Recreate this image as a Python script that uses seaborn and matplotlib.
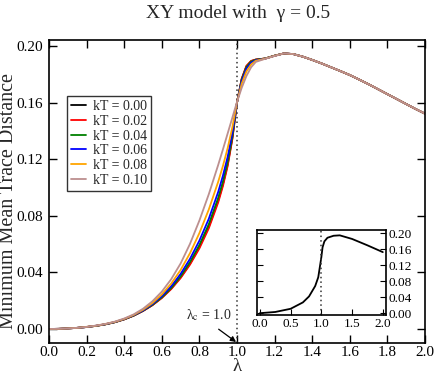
import numpy as np
import pandas as pd
import matplotlib
matplotlib.use("Agg")
import matplotlib.pyplot as plt
import seaborn as sns

# ---------------- data ----------------
lam_head = [0.0, 0.05, 0.10, 0.15, 0.20, 0.25, 0.30, 0.35, 0.40, 0.45, 0.50, 0.55,
            0.60, 0.65, 0.70, 0.75, 0.80, 0.85, 0.90, 0.925, 0.95, 0.975, 1.00,
            1.025, 1.05, 1.075, 1.10, 1.15, 1.20]
lam_tail = [1.25, 1.30, 1.35, 1.40, 1.45, 1.50, 1.55, 1.60, 1.65, 1.70, 1.75,
            1.80, 1.85, 1.90, 1.95, 2.00]
tail = [0.1948, 0.1943, 0.1925, 0.1902, 0.1877, 0.1850, 0.1823, 0.1795, 0.1763,
        0.1730, 0.1695, 0.1660, 0.1625, 0.1590, 0.1555, 0.1522]

kT_000 = [0.0, 0.0001, 0.0004, 0.0008, 0.0014, 0.0022, 0.0033, 0.0048, 0.0068, 0.0094,
          0.0128, 0.0169, 0.0221, 0.0286, 0.0365, 0.0462, 0.0580, 0.0724, 0.0908,
          0.1023, 0.1162, 0.1348, 0.1600, 0.1767, 0.1856, 0.1893, 0.1904, 0.1912, 0.1932]
kT_002 = [0.0, 0.0001, 0.0004, 0.0008, 0.0014, 0.0022, 0.0033, 0.0048, 0.0068, 0.0094,
          0.0127, 0.0168, 0.0219, 0.0282, 0.0360, 0.0455, 0.0570, 0.0712, 0.0895,
          0.1010, 0.1150, 0.1340, 0.1600, 0.1770, 0.1860, 0.1895, 0.1905, 0.1912, 0.1932]
kT_004 = [0.0, 0.0001, 0.0004, 0.0008, 0.0014, 0.0022, 0.0033, 0.0048, 0.0069, 0.0095,
          0.0129, 0.0171, 0.0224, 0.0290, 0.0372, 0.0473, 0.0594, 0.0741, 0.0927,
          0.1041, 0.1178, 0.1358, 0.1601, 0.1762, 0.1851, 0.1890, 0.1903, 0.1912, 0.1932]
kT_006 = [0.0, 0.0001, 0.0004, 0.0008, 0.0014, 0.0023, 0.0034, 0.0049, 0.0070, 0.0097,
          0.0131, 0.0176, 0.0232, 0.0302, 0.0389, 0.0496, 0.0625, 0.0779, 0.0969,
          0.1083, 0.1215, 0.1383, 0.1601, 0.1752, 0.1840, 0.1882, 0.1900, 0.1911, 0.1931]
kT_008 = [0.0, 0.0001, 0.0004, 0.0008, 0.0015, 0.0023, 0.0035, 0.0050, 0.0071, 0.0099,
          0.0136, 0.0183, 0.0244, 0.0321, 0.0417, 0.0536, 0.0678, 0.0845, 0.1041,
          0.1152, 0.1277, 0.1424, 0.1603, 0.1734, 0.1820, 0.1870, 0.1896, 0.1911, 0.1931]
kT_010 = [0.0, 0.0001, 0.0004, 0.0008, 0.0015, 0.0024, 0.0036, 0.0052, 0.0074, 0.0103,
          0.0143, 0.0196, 0.0264, 0.0352, 0.0463, 0.0602, 0.0767, 0.0953, 0.1160,
          0.1269, 0.1381, 0.1493, 0.1605, 0.1705, 0.1788, 0.1850, 0.1888, 0.1910, 0.1930]

kT_labels = ["kT = 0.00", "kT = 0.02", "kT = 0.04", "kT = 0.06", "kT = 0.08", "kT = 0.10"]
series = [kT_000, kT_002, kT_004, kT_006, kT_008, kT_010]
colors = ["#000000", "#ff0000", "#008000", "#0000ff", "#ffa500", "#bc8f8f"]

inset_lam = [0.0, 0.25, 0.5, 0.7, 0.8, 0.9, 0.95, 1.0, 1.02, 1.05, 1.1, 1.2, 1.3,
             1.5, 1.75, 2.0]
inset_val = [0.0, 0.003, 0.011, 0.027, 0.042, 0.068, 0.090, 0.140, 0.165, 0.180,
             0.189, 0.194, 0.195, 0.186, 0.170, 0.153]

x_ticks = [0.0, 0.2, 0.4, 0.6, 0.8, 1.0, 1.2, 1.4, 1.6, 1.8, 2.0]
y_ticks = [0.00, 0.04, 0.08, 0.12, 0.16, 0.20]
inset_x_ticks = [0.0, 0.5, 1.0, 1.5, 2.0]

# ---------------- styling ----------------
sns.set_style("ticks")
plt.rcParams["font.family"] = ["Liberation Serif", "DejaVu Serif"]
plt.rcParams["mathtext.fontset"] = "stix"

lam_full = lam_head + lam_tail
rows = []
for lab, vals in zip(kT_labels, series):
    for l, v in zip(lam_full, vals + tail):
        rows.append({"lam": l, "D": v, "kT": lab})
df = pd.DataFrame(rows)

fig = plt.figure(figsize=(4.36, 3.77), dpi=100)
ax = fig.add_axes([0.1124, 0.0902, 0.8624, 0.8038])

sns.lineplot(data=df, x="lam", y="D", hue="kT", hue_order=kT_labels,
             palette=colors, linewidth=1.3, ax=ax, legend=True)

ax.set_xlim(0.0, 2.0)
ax.set_ylim(-0.0099, 0.2043)
ax.set_xticks(x_ticks)
ax.set_xticklabels([f"{t:.1f}" for t in x_ticks])
ax.set_yticks(y_ticks)
ax.set_yticklabels([f"{t:.2f}" for t in y_ticks])
ax.tick_params(direction="in", top=True, right=True, length=6, width=1,
               labelsize=11, pad=4, colors="black")
ax.tick_params(axis="x", pad=2.5)
for s in ax.spines.values():
    s.set_linewidth(1.2)
    s.set_color("black")

ax.axvline(1.0, color="#333333", linestyle=(0, (1, 2)), linewidth=1.1, zorder=1)

ax.set_xlabel("λ", fontsize=13.5, va="bottom")
ax.xaxis.set_label_coords(0.5, -0.107)
ax.set_ylabel("Minimum Mean Trace Distance", fontsize=14.5)
ax.yaxis.set_label_coords(-0.083, 0.47)
fig.text(0.545, 0.963, "XY model with  γ = 0.5", ha="center", va="center", fontsize=14)

ax.annotate("λ$_\\mathrm{c}$ = 1.0", xy=(0.995, -0.0092), xytext=(0.728, 0.0095),
            fontsize=10, ha="left", va="center",
            arrowprops=dict(arrowstyle="-|>", color="black", lw=0.9, relpos=(0.55, 0.0),
                            shrinkA=3, shrinkB=0, mutation_scale=8))

leg = ax.legend(loc="upper left", bbox_to_anchor=(0.047, 0.815), fontsize=10,
                frameon=True, fancybox=False, edgecolor="black", handlelength=1.1,
                handletextpad=0.5, borderpad=0.3, labelspacing=0.12, borderaxespad=0)
leg.get_frame().set_linewidth(1.0)
for h in leg.get_lines():
    h.set_linewidth(1.3)

# ---------------- inset ----------------
axi = fig.add_axes([0.589, 0.164, 0.296, 0.2255])
sns.lineplot(x=inset_lam, y=inset_val, color="black", linewidth=1.3, ax=axi)
axi.axvline(1.0, color="#333333", linestyle=(0, (1, 2)), linewidth=1.1)
axi.set_xlim(-0.05, 2.05)
axi.set_ylim(-0.005, 0.208)
axi.set_xticks(inset_x_ticks)
axi.set_xticklabels([f"{t:.1f}" for t in inset_x_ticks])
axi.set_yticks(y_ticks)
axi.set_yticklabels([f"{t:.2f}" for t in y_ticks])
axi.yaxis.tick_right()
axi.tick_params(direction="in", left=True, right=True, top=False, length=4,
                labelsize=9.5, pad=2, colors="black")
axi.tick_params(axis="y", labelleft=False, labelright=True)
for s in axi.spines.values():
    s.set_linewidth(1.2)
    s.set_color("black")

fig.savefig("out.png", dpi=100)
